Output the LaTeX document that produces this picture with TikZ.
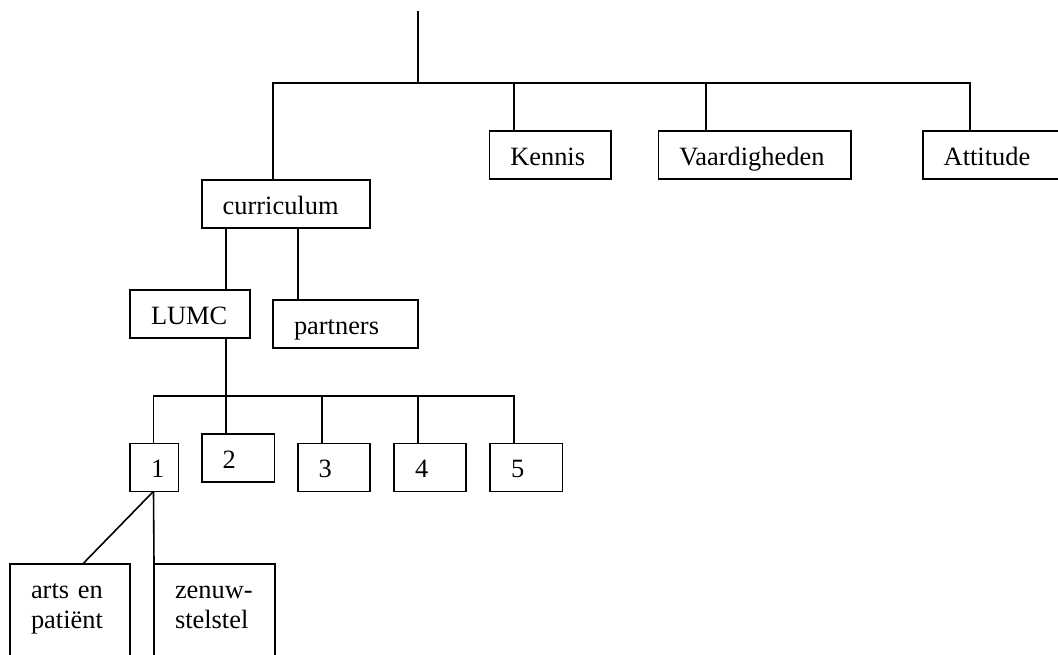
\documentclass[tikz,border=0pt]{standalone}
\usepackage{fontspec}
\setmainfont{Liberation Serif}
\begin{document}
\begin{tikzpicture}[x=0.5pt,y=-0.5pt]
\tikzset{
  conn/.style={line width=0.8pt},
  box/.style={draw, line width=0.8pt, rectangle, anchor=north west, outer sep=0pt,
    align=left, inner xsep=10.5pt, inner ysep=4pt, text height=13pt, text depth=3pt,
    font=\fontsize{13.2}{15}\selectfont},
  tallbox/.style={box, text depth=40pt}
}
\useasboundingbox (0,0) rectangle (1058,654);
\clip (0,0) rectangle (1058,654);

% boxes
\node[box, text width=63.15pt] (curr) at (201.7,180) {curriculum};
\node[box, text width=39.7pt] (kennis) at (489.3,131) {Kennis};
\node[box, text width=75.2pt] (vaard) at (658.3,131) {Vaardigheden};
\node[box, text width=70pt] (att) at (922.7,131) {Attitude};
\node[box, text width=39pt] (lumc) at (130,290) {LUMC};
\node[box, text width=51.5pt] (partners) at (273,300) {partners};
\node[box, text width=3.15pt] (n1) at (130,443.3) {1};
\node[box, text width=15.3pt] (n2) at (201.7,434) {2};
\node[box, text width=15.15pt] (n3) at (297.7,443.3) {3};
\node[box, text width=15pt] (n4) at (394,443.3) {4};
\node[box, text width=15.15pt] (n5) at (490,443.3) {5};
\node[tallbox, text width=39pt] (arts) at (10,564) {arts en\\patiënt};
\node[tallbox, text width=39.35pt] (zenuw) at (154,564) {zenuw-\\stelstel};

% top level connectors
\coordinate (top) at (418,11);
\coordinate (hub) at (418,83);
\coordinate (busL) at (273,83);
\coordinate (busR) at (970,83);
\coordinate (bK) at (514,83);
\coordinate (bV) at (706,83);
\draw[conn] (top) -- (hub);
\draw[conn] (busL |- curr.north) -- (busL) -- (busR) -- (busR |- att.north);
\draw[conn] (bK) -- (bK |- kennis.north);
\draw[conn] (bV) -- (bV |- vaard.north);

% curriculum level
\coordinate (cl) at (226,260);
\coordinate (cp) at (298,260);
\draw[conn] (cl |- curr.south) -- (cl |- lumc.north);
\draw[conn] (cp |- curr.south) -- (cp |- partners.north);
\draw[conn] (cl |- lumc.south) -- (cl |- n2.north);

% LUMC level
\coordinate (bus2L) at (153.5,396);
\coordinate (bus2R) at (514,396);
\coordinate (b3) at (322,396);
\coordinate (b4) at (418,396);
\draw[conn] (bus2L |- n1.north) -- (bus2L) -- (bus2R) -- (bus2R |- n5.north);
\draw[conn] (b3) -- (b3 |- n3.north);
\draw[conn] (b4) -- (b4 |- n4.north);

% block 1
\coordinate (o1) at (n1.south -| bus2L);
\coordinate (aT) at (82.7,564);
\draw[conn] (o1) -- (aT |- arts.north);
\draw[conn] (o1) -- (zenuw.north west);
\end{tikzpicture}
\end{document}
